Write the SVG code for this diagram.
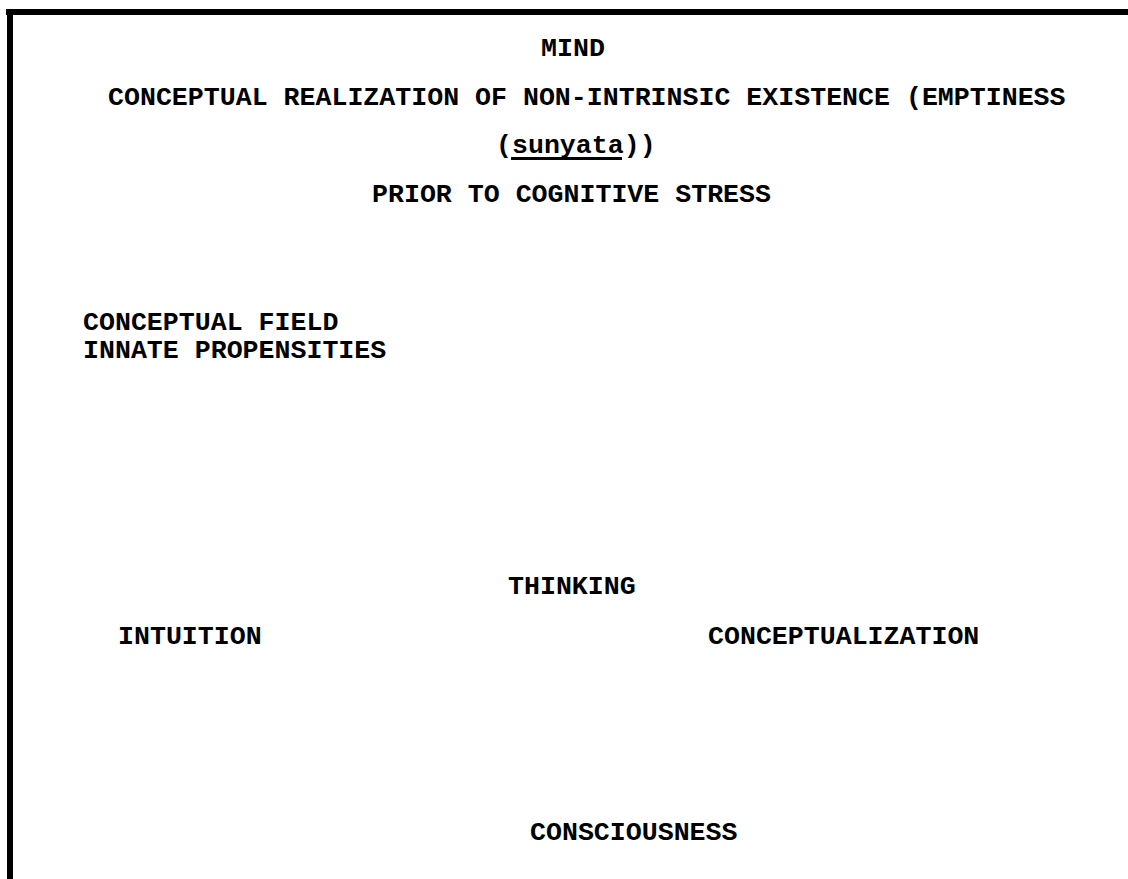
<svg xmlns="http://www.w3.org/2000/svg" width="1128" height="879" viewBox="0 0 1128 879">
<style>
text{font-family:"Courier New","Liberation Mono",monospace;font-weight:bold;font-size:26.6px;fill:#000}
.b{fill:#000}
</style>
<rect x="0" y="0" width="1128" height="879" fill="#fff"/>
<g id="frame">
<rect class="b" x="6" y="9" width="1122" height="6"/>
<rect class="b" x="7" y="9" width="6" height="870"/>
</g>
<g id="header">
<text x="541" y="56">MIND</text>
<text x="108" y="105">CONCEPTUAL REALIZATION OF NON-INTRINSIC EXISTENCE (EMPTINESS</text>
<text x="496" y="153">(sunyata))</text>
<rect class="b" x="511" y="157" width="111" height="3"/>
<text x="372" y="202">PRIOR TO COGNITIVE STRESS</text>
</g>
<g id="conceptual-field">
<text x="83" y="330">CONCEPTUAL FIELD</text>
<text x="83" y="358">INNATE PROPENSITIES</text>
</g>
<g id="thinking"><text x="508" y="594">THINKING</text></g>
<g id="intuition"><text x="118" y="644">INTUITION</text></g>
<g id="conceptualization"><text x="708" y="644">CONCEPTUALIZATION</text></g>
<g id="consciousness"><text x="530" y="840">CONSCIOUSNESS</text></g>
<g id="connectors"/>
</svg>
